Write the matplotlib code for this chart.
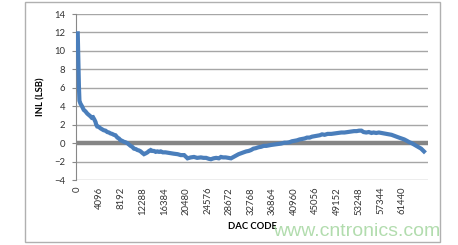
import matplotlib.pyplot as plt
from matplotlib.patches import Rectangle

plt.rcParams['font.family'] = ['Lato', 'DejaVu Sans']

# INL curve (DAC code, LSB)
codes = [0, 40, 90, 150, 220, 320, 500, 800, 1140, 1450, 1800, 2100, 2410,
         2650, 2900, 3150, 3360, 3500, 3690, 4000, 4310, 4600, 4900, 5250,
         5590, 5900, 6200, 6500, 6840, 7150, 7500, 7800, 8110, 8400, 8700,
         9000, 9380, 9700, 10000, 10300, 10640, 11000, 11300, 11600, 11910,
         12200, 12540, 12900, 13200, 13500, 13810, 14100, 14400, 14750, 15080,
         15400, 15710, 16100, 16600, 17100, 17610, 18200, 18900, 19500, 20140,
         20500, 20780, 21400, 22000, 22600, 23310, 23800, 24300, 24800, 25210,
         25700, 26200, 26700, 27110, 27500, 28000, 28500, 29010, 29500, 30000,
         30450, 30910, 31400, 31900, 32350, 32810, 33250, 33700, 34200, 34710,
         35200, 35700, 36150, 36610, 37200, 37900, 38500, 39130, 39600, 40100,
         40550, 41030, 41500, 42000, 42450, 42930, 43400, 43900, 44350, 44830,
         45300, 45800, 46250, 46730, 47300, 48000, 48600, 49280, 49900, 50500,
         51100, 51800, 52300, 52800, 53250, 53700, 54100, 54600, 55100, 55600,
         56000, 56500, 57000, 57500, 58000, 58500, 58950, 59400, 59850, 60300,
         60800, 61300, 61800, 62300, 62750, 63200, 63800, 64400, 65000, 65535]
inl = [11.9, 10.8, 9.6, 8.0, 6.2, 4.6, 4.3, 4.0, 3.6, 3.45, 3.2, 3.05, 2.9,
       2.75, 2.8, 2.55, 2.3, 2.0, 1.8, 1.75, 1.6, 1.5, 1.4, 1.35,
       1.2, 1.15, 1.05, 1.0, 0.9, 0.85, 0.6, 0.5, 0.3, 0.25, 0.15,
       0.1, 0.0, -0.15, -0.3, -0.4, -0.6, -0.65, -0.75, -0.8, -0.9,
       -1.05, -1.2, -1.1, -1.0, -0.85, -0.75, -0.85, -0.85, -0.95, -0.9,
       -0.95, -0.9, -1.0, -1.0, -1.05, -1.1, -1.15, -1.2, -1.3, -1.3,
       -1.5, -1.65, -1.55, -1.5, -1.6, -1.55, -1.6, -1.6, -1.7, -1.75,
       -1.65, -1.6, -1.65, -1.5, -1.55, -1.55, -1.6, -1.65, -1.5, -1.35,
       -1.2, -1.1, -1.0, -0.9, -0.85, -0.75, -0.6, -0.55, -0.45, -0.4,
       -0.3, -0.3, -0.25, -0.2, -0.15, -0.1, -0.05, 0.05, 0.05, 0.1,
       0.2, 0.25, 0.3, 0.4, 0.45, 0.5, 0.6, 0.6, 0.7, 0.75,
       0.8, 0.85, 0.95, 0.9, 1.0, 1.0, 1.05, 1.1, 1.15, 1.15,
       1.2, 1.25, 1.3, 1.3, 1.35, 1.35, 1.2, 1.15, 1.2, 1.1,
       1.15, 1.1, 1.15, 1.1, 1.05, 1.0, 0.95, 0.9, 0.8, 0.7,
       0.6, 0.5, 0.4, 0.25, 0.1, 0.0, -0.2, -0.4, -0.6, -0.9]

xticks = list(range(0, 65536, 4096))
yticks = list(range(-4, 15, 2))

fig = plt.figure(figsize=(4.58, 2.45), dpi=100)
fig.patches.append(Rectangle((25 / 458, 1 - 242 / 245), 415 / 458, 240 / 245,
                             transform=fig.transFigure, fill=False,
                             edgecolor='#b0b0b0', linewidth=1))
ax = fig.add_axes([76 / 458, 1 - 180 / 245, 352 / 458, 166 / 245])

for y in yticks:
    if y != 0:
        ax.axhline(y, color='#a6a6a6', linewidth=1, zorder=1)
ax.axhline(0, color='#858585', linewidth=3.2, zorder=2)

ax.plot(codes, inl, color='#4a7ebb', linewidth=3.0, zorder=3,
        solid_joinstyle='miter')

ax.set_xlim(-330, 66300)
ax.set_ylim(-4, 14)
ax.set_xticks(xticks)
ax.set_xticklabels([str(x) for x in xticks], rotation=90)
ax.set_yticks(yticks)
ax.tick_params(axis='x', length=0, pad=5, labelsize=6.8, labelcolor='#333333')
ax.tick_params(axis='y', length=3, pad=5, labelsize=6.8, labelcolor='#333333',
               color='#888888')
for s in ['top', 'right', 'bottom']:
    ax.spines[s].set_visible(False)
ax.spines['left'].set_color('#888888')

ax.set_ylabel('INL (LSB)', fontsize=6.8, fontweight='bold', labelpad=6)
ax.set_xlabel('DAC CODE', fontsize=6.8, fontweight='bold', labelpad=5)

fig.text(440 / 458, 1 - 240 / 245, 'www.cntronics.com', ha='right', va='bottom',
         fontsize=14, color='#9fd49a', alpha=0.8, family='Liberation Sans')

fig.savefig('out.png', dpi=100)
